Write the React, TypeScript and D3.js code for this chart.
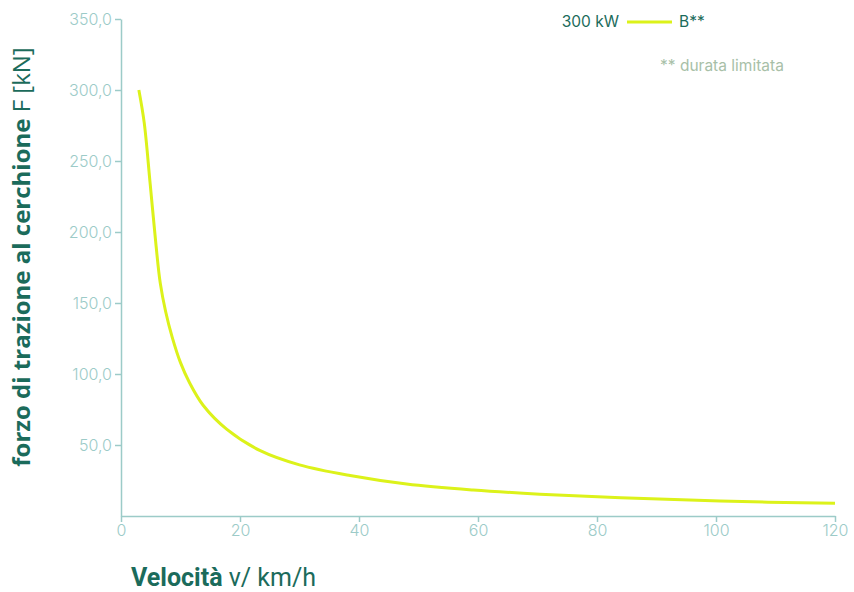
import { useEffect, useRef } from "react";
import * as d3 from "d3";

// values
const speed = [3.0, 3.9, 4.9, 5.9, 6.6, 7.5, 8.6, 10, 11.5, 13.8, 17.8, 23.4, 30, 38.5, 48, 59.2, 70.4, 84, 100.7, 120];
const force = [300, 277, 234, 190, 164, 144, 126, 108, 94, 78, 61, 46, 36, 28.5, 22.5, 18.3, 15.4, 12.8, 10.5, 8.9];
const xTicks = [0, 20, 40, 60, 80, 100, 120];
const yTicks = [50, 100, 150, 200, 250, 300, 350];

const axisColor = "#9ccbc8";
const darkGreen = "#1b6b5b";
const lineColor = "#dcf21a";

const App = () => {
  const svgRef = useRef<SVGSVGElement>(null);

  useEffect(() => {
    const svg = d3.select(svgRef.current);
    svg.selectAll("*").remove();

    const width = 854;
    const height = 592;
    const margin = { top: 19, right: 19, bottom: 76, left: 121 };

    const x = d3.scaleLinear().domain([0, 120]).range([margin.left, width - margin.right]);
    const y = d3.scaleLinear().domain([0, 350]).range([height - margin.bottom, margin.top]);

    svg.attr("width", width).attr("height", height);

    // x axis
    const gx = svg
      .append("g")
      .attr("transform", `translate(0,${y(0)})`)
      .call(d3.axisBottom(x).tickValues(xTicks).tickSize(6).tickPadding(3).tickSizeOuter(0));
    gx.select(".domain").attr("stroke", axisColor).attr("stroke-width", 1.5);
    gx.selectAll(".tick line").attr("stroke", axisColor).attr("stroke-width", 1.5);
    gx.selectAll(".tick text")
      .attr("fill", axisColor)
      .attr("font-family", "Inter, sans-serif")
      .attr("font-weight", 300)
      .attr("font-size", 16);

    // y axis
    const gy = svg
      .append("g")
      .attr("transform", `translate(${x(0)},0)`)
      .call(
        d3
          .axisLeft(y)
          .tickValues(yTicks)
          .tickSize(6)
          .tickPadding(3)
          .tickSizeOuter(0)
          .tickFormat((d) => d3.format(".1f")(d as number).replace(".", ","))
      );
    gy.select(".domain").attr("stroke", axisColor).attr("stroke-width", 1.5);
    gy.selectAll(".tick line").attr("stroke", axisColor).attr("stroke-width", 1.5);
    gy.selectAll(".tick text")
      .attr("fill", axisColor)
      .attr("font-family", "Inter, sans-serif")
      .attr("font-weight", 300)
      .attr("font-size", 16);

    // curve
    const data = speed.map((v, i) => ({ v, f: force[i] }));
    const line = d3
      .line<{ v: number; f: number }>()
      .x((d) => x(d.v))
      .y((d) => y(d.f))
      .curve(d3.curveCatmullRom.alpha(0.5));

    svg
      .append("path")
      .datum(data)
      .attr("fill", "none")
      .attr("stroke", lineColor)
      .attr("stroke-width", 3)
      .attr("d", line);

    // legend
    svg
      .append("text")
      .attr("x", 619)
      .attr("y", 27)
      .attr("text-anchor", "end")
      .attr("fill", darkGreen)
      .attr("font-family", "Inter, sans-serif")
      .attr("font-size", 15.5)
      .text("300 kW");
    svg
      .append("line")
      .attr("x1", 627)
      .attr("x2", 672)
      .attr("y1", 22)
      .attr("y2", 22)
      .attr("stroke", lineColor)
      .attr("stroke-width", 3);
    svg
      .append("text")
      .attr("x", 679)
      .attr("y", 27)
      .attr("fill", darkGreen)
      .attr("font-family", "Inter, sans-serif")
      .attr("font-size", 15.5)
      .text("B**");
    svg
      .append("text")
      .attr("x", 660)
      .attr("y", 71)
      .attr("fill", "#a8bfa8")
      .attr("font-family", "Inter, sans-serif")
      .attr("font-size", 15.5)
      .text("** durata limitata");

    // axis titles
    const xt = svg
      .append("text")
      .attr("x", 131)
      .attr("y", 586)
      .attr("fill", darkGreen)
      .attr("font-family", "Roboto, sans-serif")
      .attr("font-size", 25);
    xt.append("tspan").attr("font-weight", 700).text("Velocità");
    xt.append("tspan").attr("font-weight", 400).text(" v/ km/h");

    const yt = svg
      .append("text")
      .attr("transform", `translate(30,257) rotate(-90)`)
      .attr("text-anchor", "middle")
      .attr("fill", darkGreen)
      .attr("font-family", "'Open Sans', sans-serif")
      .attr("font-size", 24);
    yt.append("tspan").attr("font-weight", 700).text("forzo di trazione al cerchione");
    yt.append("tspan").attr("font-weight", 400).text(" F [kN]");
  }, []);

  return <svg ref={svgRef} style={{ position: "absolute", left: 0, top: 0 }}></svg>;
};

export default App;
